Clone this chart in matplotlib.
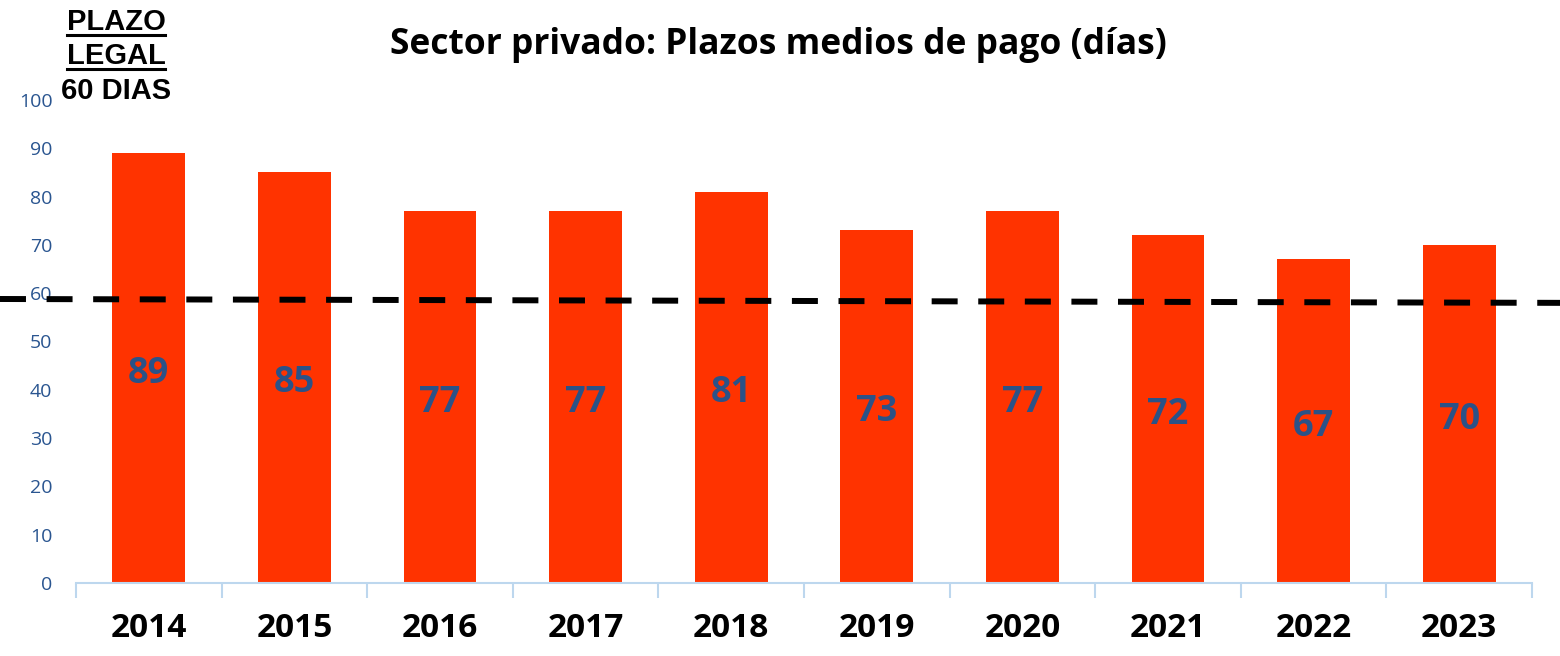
#!/usr/bin/env python3
# Sector privado: plazos medios de pago (dias), barras + plazo legal

import numpy as np
import matplotlib
matplotlib.use("Agg")
import matplotlib.pyplot as plt
from matplotlib.lines import Line2D

years = ["2014", "2015", "2016", "2017", "2018", "2019", "2020", "2021", "2022", "2023"]
dias = [89, 85, 77, 77, 81, 73, 77, 72, 67, 70]
yticks = [0, 10, 20, 30, 40, 50, 60, 70, 80, 90, 100]
# dashed legal-limit line as drawn (slightly slanted in the original)
linea_legal = [58.8, 58.0]

bar_color = "#FF3300"
label_color = "#2B5287"
tick_color = "#2A5590"
axis_color = "#BDD7EE"

W, H = 1560, 656
fig = plt.figure(figsize=(W / 100, H / 100), dpi=100)
ax = fig.add_axes([76 / W, 1 - 583 / H, (1532 - 76) / W, (583 - 100) / H])

x = np.arange(len(years))
ax.bar(x, dias, width=0.5, color=bar_color, zorder=2)

for xi, v in zip(x, dias):
    ax.annotate(str(v), (xi, v / 2), xytext=(0, -4), textcoords="offset points",
                ha="center", va="center", color=label_color,
                fontsize=26, fontweight="bold", family="Open Sans", zorder=4)

ax.set_xlim(-0.5, len(years) - 0.5)
ax.set_ylim(0, 100)
ax.set_yticks(yticks)
ax.set_yticklabels([str(t) for t in yticks], color=tick_color, fontsize=14,
                   family="Open Sans")
ax.tick_params(axis="y", length=0, pad=17)

# categories with boundary ticks
ax.set_xticks(x)
ax.set_xticklabels(years, fontsize=24, fontweight="bold", family="Open Sans")
ax.tick_params(axis="x", length=0, pad=21)
ax.set_xticks(np.arange(len(years) + 1) - 0.5, minor=True)
ax.tick_params(axis="x", which="minor", length=11, width=1.5, color=axis_color)

for s in ["top", "right", "left"]:
    ax.spines[s].set_visible(False)
ax.spines["bottom"].set_color(axis_color)
ax.spines["bottom"].set_linewidth(1.5)

# legal line across the full figure width
d0 = ax.transData.transform((0, linea_legal[0]))
d1 = ax.transData.transform((0, linea_legal[1]))
fy0 = fig.transFigure.inverted().transform(d0)[1]
fy1 = fig.transFigure.inverted().transform(d1)[1]
fig.add_artist(Line2D([0.0, 1.0], [fy0, fy1], transform=fig.transFigure,
                      color="black", lw=4.3, dashes=(4.35, 3.45), zorder=5))

fig.text(778 / W, 1 - 45 / H, "Sector privado: Plazos medios de pago (días)",
         ha="center", va="center", fontsize=25.5, fontweight="bold",
         family="Open Sans")

# PLAZO LEGAL 60 DIAS (first two lines underlined)
corner = []
for txt, yy in [("PLAZO", 22), ("LEGAL", 56), ("60 DIAS", 91)]:
    t = fig.text(116 / W, 1 - yy / H, txt, ha="center", va="center",
                 fontsize=21, fontweight="bold", family="Liberation Sans")
    corner.append(t)

fig.canvas.draw()
r = fig.canvas.get_renderer()
inv = fig.transFigure.inverted()
for t in corner[:2]:
    bb = t.get_window_extent(renderer=r)
    (ux0, uy0), (ux1, _) = inv.transform([(bb.x0, bb.y0 + 1), (bb.x1, bb.y0)])
    fig.add_artist(Line2D([ux0, ux1], [uy0, uy0], transform=fig.transFigure,
                          color="black", lw=2.2))

fig.savefig("out.png", dpi=100)
